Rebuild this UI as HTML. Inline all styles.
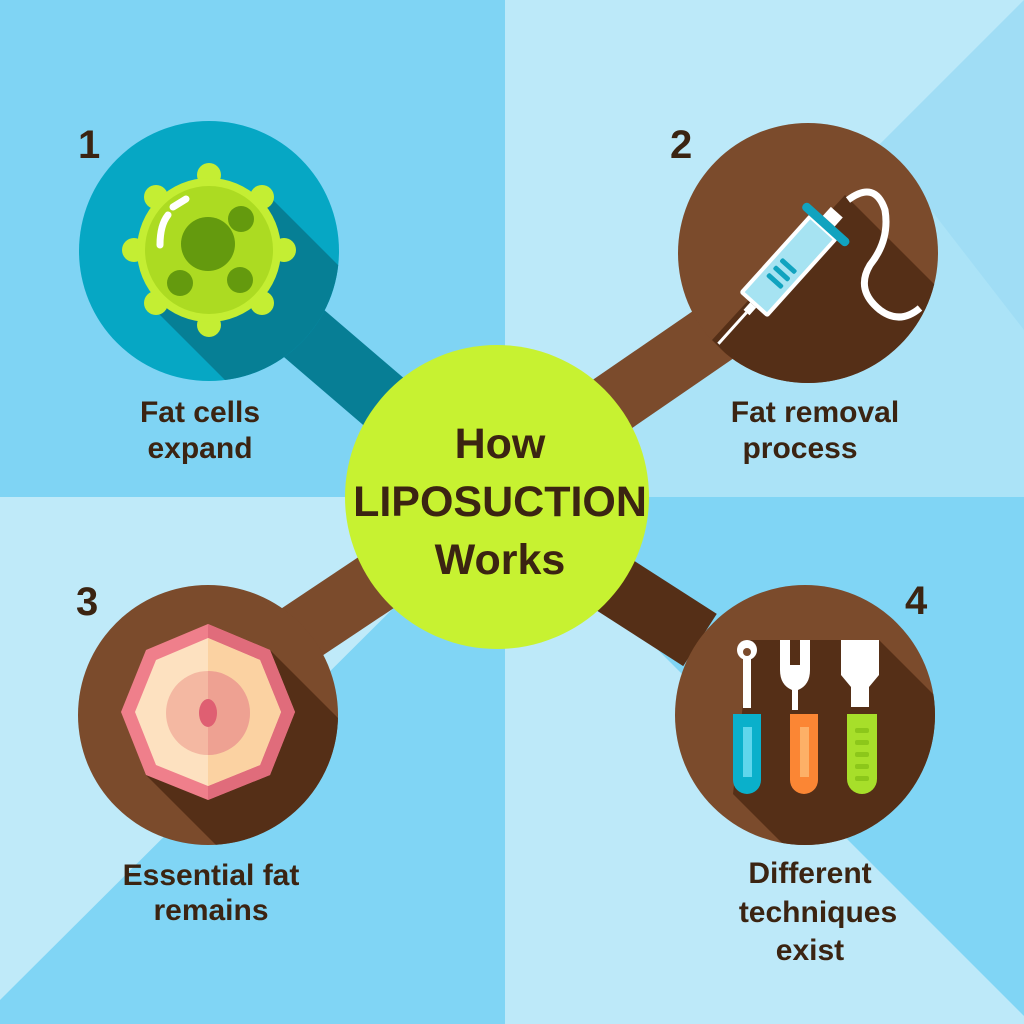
<!DOCTYPE html>
<html><head><meta charset="utf-8"><style>
html,body{margin:0;padding:0;width:1024px;height:1024px;overflow:hidden}
svg{display:block}
text{font-family:"Liberation Sans",sans-serif;font-weight:bold;fill:#3b2412}
</style></head><body>
<svg width="1024" height="1024" viewBox="0 0 1024 1024">
<defs>
<clipPath id="c1"><circle cx="209" cy="251" r="130"/></clipPath>
<clipPath id="c2"><circle cx="808" cy="253" r="130"/></clipPath>
<clipPath id="c3"><circle cx="208" cy="715" r="130"/></clipPath>
<clipPath id="c4"><circle cx="805" cy="715" r="130"/></clipPath>
</defs>
<rect width="1024" height="1024" fill="#80d5f5"/>
<rect x="0" y="0" width="505" height="497" fill="#7fd4f4"/>
<rect x="505" y="0" width="519" height="497" fill="#bce9f9"/>
<polygon points="1024,0 1024,497 527,497" fill="#abe3f7"/>
<polygon points="880,144 1024,0 1024,330" fill="#a0ddf5"/>
<rect x="0" y="497" width="505" height="527" fill="#bfeaf9"/>
<polygon points="505,497 505,1024 0,1024 0,1000" fill="#80d5f5"/>
<rect x="505" y="497" width="519" height="527" fill="#80d5f5"/>
<polygon points="505,497 1024,1016 1024,1024 505,1024" fill="#bde9f9"/>
<line x1="300" y1="330" x2="440" y2="450" stroke="#077e95" stroke-width="62"/>
<line x1="720" y1="330" x2="560" y2="440" stroke="#7b4b2c" stroke-width="62"/>
<line x1="290" y1="640" x2="440" y2="540" stroke="#7b4b2c" stroke-width="62"/>
<line x1="700" y1="640" x2="560" y2="550" stroke="#552f17" stroke-width="62"/>
<circle cx="209" cy="251" r="130" fill="#06a7c4"/>
<g clip-path="url(#c1)">
<polygon points="266,193 466,393 352,507 152,307" fill="#067f95"/>
</g>
<g fill="#c4ee33">
<circle cx="209" cy="175" r="12"/><circle cx="209" cy="325" r="12"/>
<circle cx="134" cy="250" r="12"/><circle cx="284" cy="250" r="12"/>
<circle cx="156" cy="197" r="12"/><circle cx="262" cy="197" r="12"/>
<circle cx="156" cy="303" r="12"/><circle cx="262" cy="303" r="12"/>
</g>
<circle cx="209" cy="250" r="72" fill="#c4ee33"/>
<circle cx="209" cy="250" r="64" fill="#acdb22"/>
<circle cx="208" cy="244" r="27" fill="#649a0e"/>
<circle cx="241" cy="219" r="13" fill="#649a0e"/>
<circle cx="180" cy="283" r="13" fill="#649a0e"/>
<circle cx="240" cy="280" r="13" fill="#649a0e"/>
<path d="M160,245 Q160,225 168,215" stroke="#fff" stroke-width="7" fill="none" stroke-linecap="round"/>
<path d="M173,207 L186,199" stroke="#fff" stroke-width="7" fill="none" stroke-linecap="round"/>
<circle cx="808" cy="253" r="130" fill="#7b4b2c"/>
<g clip-path="url(#c2)">
<polygon points="712,340 845,195 1045,395 912,540" fill="#552f17"/>
</g>
<path d="M848,200 Q875,180 885,210 Q890,240 870,265 Q855,290 880,310 Q900,325 920,308" stroke="#fff" stroke-width="7" fill="none"/>
<g transform="translate(792,262) rotate(-48)">
<rect x="-58" y="-19" width="106" height="38" rx="3" fill="#fff"/>
<rect x="-54" y="-15" width="98" height="30" fill="#a6e3f2"/>
<rect x="46" y="-30" width="9" height="60" rx="4" fill="#11a3bf"/>
<rect x="-28" y="-10" width="5" height="20" rx="2" fill="#11a3bf"/>
<rect x="-18" y="-10" width="5" height="20" rx="2" fill="#11a3bf"/>
<rect x="-8" y="-10" width="5" height="20" rx="2" fill="#11a3bf"/>
<rect x="-68" y="-4" width="10" height="8" fill="#fff"/>
<line x1="-68" y1="0" x2="-110" y2="0" stroke="#fff" stroke-width="3"/>
<rect x="55" y="-8" width="12" height="16" fill="#fff"/>
</g>
<circle cx="208" cy="715" r="130" fill="#7b4b2c"/>
<g clip-path="url(#c3)">
<polygon points="270,650 470,850 346,975 146,775" fill="#552f17"/>
</g>
<polygon points="208,624 270,650 295,712 270,775 208,800 146,775 121,712 146,650" fill="#ef7f8b"/>
<polygon points="208,624 270,650 295,712 270,775 208,800" fill="#e06c7b"/>
<polygon points="208,638 260,660 281,712 260,765 208,786 156,765 135,712 156,660" fill="#fde1c0"/>
<polygon points="208,638 260,660 281,712 260,765 208,786" fill="#fbd2a2"/>
<circle cx="208" cy="713" r="42" fill="#f4b8a2"/>
<path d="M208,671 A42,42 0 0 1 208,755 Z" fill="#eea192"/>
<ellipse cx="208" cy="713" rx="9" ry="14" fill="#df5f72"/>
<circle cx="805" cy="715" r="130" fill="#7b4b2c"/>
<g clip-path="url(#c4)">
<polygon points="750,640 879,640 1079,840 933,994 733,794" fill="#552f17"/>
</g>
<g>
<circle cx="747" cy="650" r="10" fill="#fff"/><circle cx="747" cy="652" r="4" fill="#7b4b2c"/>
<rect x="743" y="658" width="8" height="50" fill="#fff"/>
<rect x="733" y="714" width="28" height="80" rx="14" fill="#0ab0cb"/>
<rect x="733" y="714" width="28" height="20" fill="#0ab0cb"/>
<rect x="743" y="727" width="9" height="50" fill="#5fd6ec"/>
<path d="M780,640 h10 v25 h10 v-25 h10 v30 q0,15 -12,20 v20 h-6 v-20 q-12,-5 -12,-20 z" fill="#fff"/>
<rect x="790" y="714" width="28" height="80" rx="14" fill="#fb8634"/>
<rect x="790" y="714" width="28" height="20" fill="#fb8634"/>
<rect x="800" y="727" width="9" height="50" fill="#fdb067"/>
<path d="M841,640 h38 v35 l-10,12 v20 h-18 v-20 l-10,-12 z" fill="#fff"/>
<rect x="847" y="714" width="30" height="80" rx="15" fill="#a7df2a"/>
<rect x="847" y="714" width="30" height="20" fill="#a7df2a"/>
<g fill="#8cc71a"><rect x="855" y="728" width="14" height="5" rx="2"/><rect x="855" y="740" width="14" height="5" rx="2"/><rect x="855" y="752" width="14" height="5" rx="2"/><rect x="855" y="764" width="14" height="5" rx="2"/><rect x="855" y="776" width="14" height="5" rx="2"/></g>
</g>
<circle cx="497" cy="497" r="152" fill="#c7f231"/>
<text x="500" y="458" font-size="43" text-anchor="middle">How</text>
<text x="500" y="516" font-size="43" text-anchor="middle">LIPOSUCTION</text>
<text x="500" y="574" font-size="43" text-anchor="middle">Works</text>
<text x="78" y="158" font-size="40">1</text>
<text x="670" y="158" font-size="40">2</text>
<text x="76" y="615" font-size="40">3</text>
<text x="905" y="614" font-size="40">4</text>
<g font-size="30" text-anchor="middle">
<text x="200" y="422">Fat cells</text><text x="200" y="458">expand</text>
<text x="815" y="422">Fat removal</text><text x="800" y="458">process</text>
<text x="211" y="885">Essential fat</text><text x="211" y="920">remains</text>
<text x="810" y="883">Different</text><text x="818" y="922">techniques</text><text x="810" y="960">exist</text>
</g>
</svg>
</body></html>
